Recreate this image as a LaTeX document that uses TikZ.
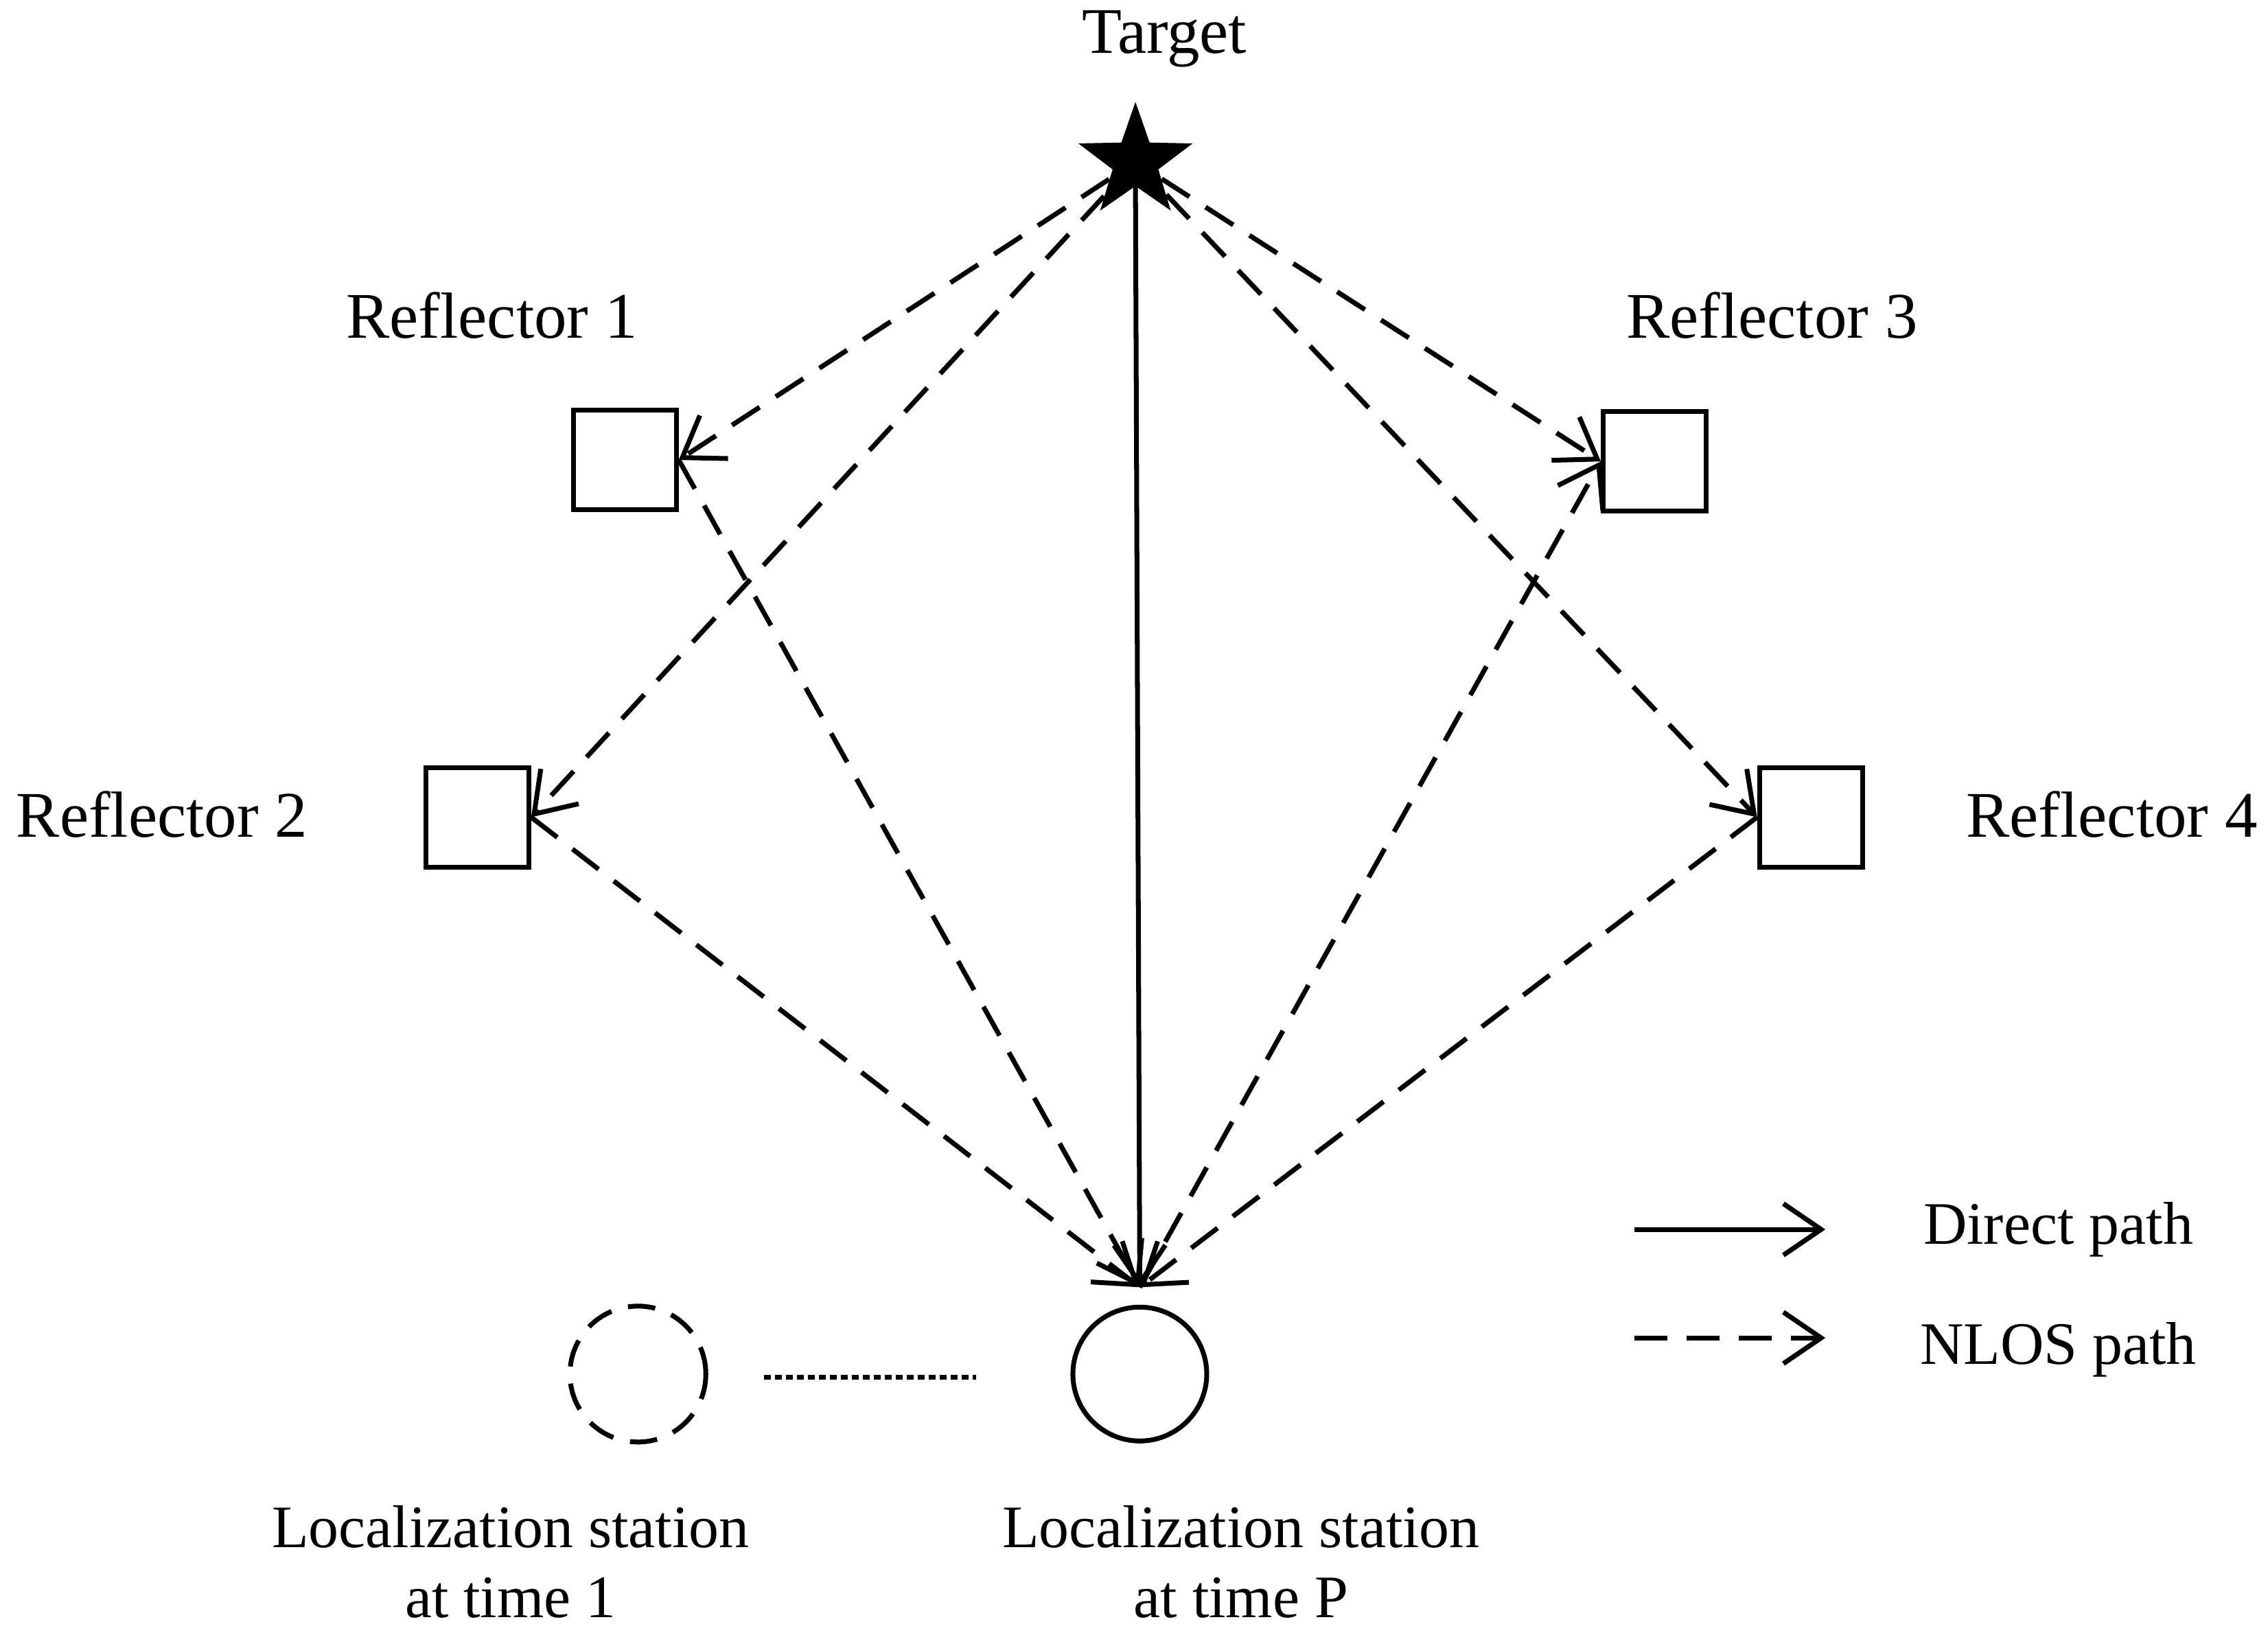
\documentclass[tikz,border=0pt]{standalone}
\usepackage{fontspec}
\setmainfont{Liberation Serif}
\usetikzlibrary{shapes.geometric,arrows.meta}
\begin{document}
\begin{tikzpicture}[x=0.02107cm,y=-0.02107cm,
  lw/.style={line width=2pt},
  refl/.style={draw,lw,minimum width=1.5cm,minimum height=1.45cm,inner sep=0},
  tip/.style={-{Straight Barb[length=0.55cm,width=0.75cm,line width=2pt]}},
  nlos/.style={lw,tip,dash pattern=on 0.48cm off 0.28cm},
  lab/.style={font=\fontsize{27}{32}\selectfont},
  lab2/.style={font=\fontsize{25}{29}\selectfont,align=center}]
\useasboundingbox (0,0) rectangle (1568,1130);
\node[star,star points=5,star point ratio=2.5,fill=black,minimum size=1.75cm,inner sep=0] (T) at (785,112) {};
\node[lab] (tl) at (805,27) {Target};
\node[refl] (R1) at (432,318) {};
\node[refl] (R2) at (330,565) {};
\node[refl] (R3) at (1144,319) {};
\node[refl] (R4) at (1252,565) {};
\node[lab] at (340,218) {Reflector 1};
\node[lab] at (112,563) {Reflector 2};
\node[lab] at (1225,218) {Reflector 3};
\node[lab] at (1460,563) {Reflector 4};
\node[circle,draw,lw,minimum size=1.95cm,inner sep=0] (P) at (788,950) {};
\node[circle,draw,lw,dash pattern=on 0.4cm off 0.25cm,minimum size=1.98cm,inner sep=0] (S1) at (441,950) {};
\coordinate (d1) at (528,952); \coordinate (d2) at (675,952);
\draw[lw,dash pattern=on 0.1cm off 0.06cm] (d1) -- (d2);
\node[lab2] at (353,1080) {Localization station\\at time 1};
\node[lab2] at (858,1080) {Localization station\\at time P};
\coordinate (Ptop) at (788,890);
\coordinate (Tb) at (785,128);
\draw[lw,tip] (Tb) -- (Ptop);
\draw[nlos] (T) -- (R1.east);
\draw[nlos] (R1.east) -- (Ptop);
\draw[nlos] (T) -- (R2.east);
\draw[nlos] (R2.east) -- (Ptop);
\draw[nlos] (T) -- (R3.west);
\draw[nlos] (Ptop) -- (R3.west);
\draw[nlos] (T) -- (R4.west);
\draw[nlos] (R4.west) -- (Ptop);
\coordinate (l1a) at (1130,850); \coordinate (l1b) at (1262,850);
\coordinate (l2a) at (1130,925); \coordinate (l2b) at (1262,925);
\draw[lw,tip] (l1a) -- (l1b);
\draw[nlos] (l2a) -- (l2b);
\node[lab2] at (1423,850) {Direct path};
\node[lab2] at (1423,933) {NLOS path};
\end{tikzpicture}
\end{document}
